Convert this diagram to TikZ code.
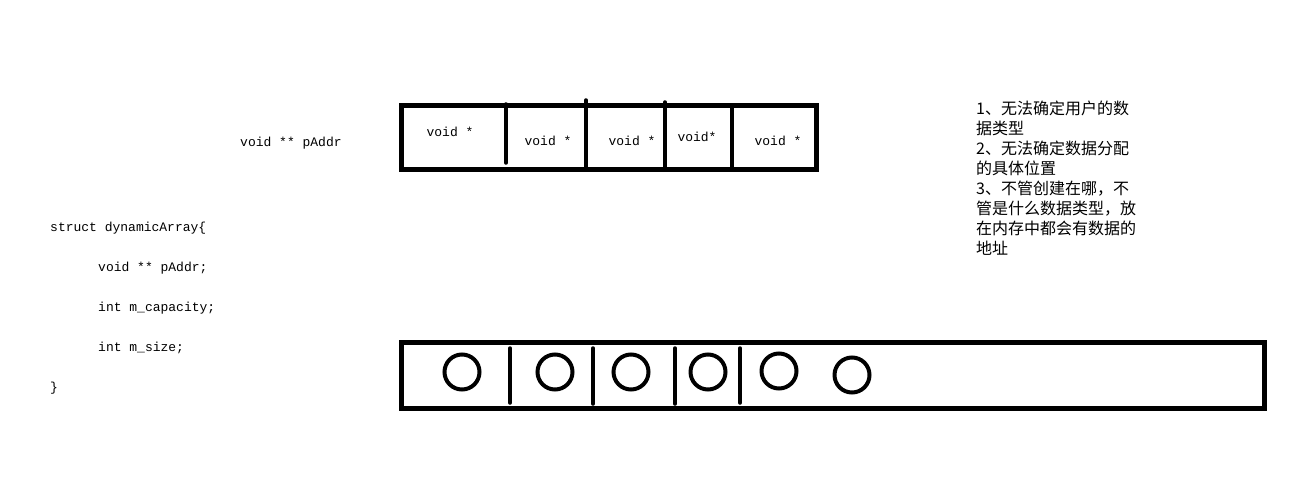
\documentclass[tikz,border=0pt]{standalone}
\usepackage{fontspec}
\setmonofont{Liberation Mono}
\newfontfamily\cjk{Noto Sans CJK SC}
\usetikzlibrary{positioning}

\begin{document}
\begin{tikzpicture}[x=1pt,y=-1pt,
  code/.style={font=\ttfamily\fontsize{13}{15}\selectfont, inner sep=0pt, anchor=west},
  cell text/.style={font=\ttfamily\fontsize{13}{15}\selectfont, inner sep=0pt},
  frame/.style={draw, line width=5pt},
  divider/.style={line width=3.5pt, line cap=round},
  slot/.style={circle, draw, line width=4pt, minimum size=35pt, inner sep=0pt}]

  \useasboundingbox (0,0) rectangle (1308,500);

  % pointer array
  \draw[frame] (401,106) rectangle (816,169);
  \draw[divider] (506,104) -- (506,163);
  \draw[divider] (586,100) -- (586,168);
  \draw[divider] (665,102) -- (665,168);
  \draw[divider] (732,106) -- (732,169);

  \node[cell text] (v1) at (450,132) {void *};
  \node[cell text] (v2) at (548,141) {void *};
  \node[cell text] (v3) at (632,141) {void *};
  \node[cell text] (v4) at (697,137) {void*};
  \node[cell text] (v5) at (778,141) {void *};

  \node[code] (paddr) at (240,143) {void ** pAddr};

  % struct
  \node[code] (s1) at (50,228) {struct dynamicArray\{};
  \node[code] (s2) at (98,268) {void ** pAddr;};
  \node[code] (s3) at (98,308) {int m\_capacity;};
  \node[code] (s4) at (98,348) {int m\_size;};
  \node[code] (s5) at (50,388) {\}};

  % data in memory
  \draw[frame] (401,342) rectangle (1264,408);
  \draw[divider] (510,348) -- (510,403);
  \draw[divider] (593,348) -- (593,404);
  \draw[divider] (675,348) -- (675,404);
  \draw[divider] (740,348) -- (740,403);

  \node[slot] (d1) at (462,372) {};
  \node[slot] (d2) at (555,372) {};
  \node[slot] (d3) at (631,372) {};
  \node[slot] (d4) at (708,372) {};
  \node[slot] (d5) at (779,371) {};
  \node[slot] (d6) at (852,375) {};

  % notes
  \node[font=\cjk\fontsize{16}{20}\selectfont, align=left, inner sep=0pt, anchor=north west] (notes) at (976,101)
    {1、无法确定用户的数\\据类型\\2、无法确定数据分配\\的具体位置\\3、不管创建在哪，不\\管是什么数据类型，放\\在内存中都会有数据的\\地址};
\end{tikzpicture}
\end{document}
